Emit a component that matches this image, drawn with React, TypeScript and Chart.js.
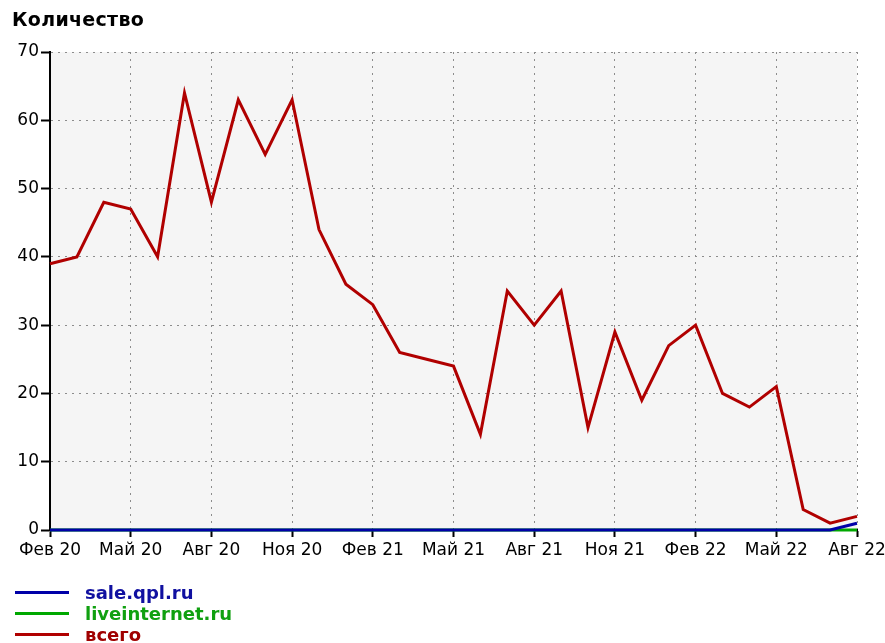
import React, { useEffect, useRef } from "react";
import { Chart, registerables } from "chart.js";

Chart.register(...registerables);

const months = [
  "Фев 20", "Мар 20", "Апр 20", "Май 20", "Июн 20", "Июл 20", "Авг 20", "Сен 20", "Окт 20", "Ноя 20", "Дек 20",
  "Янв 21", "Фев 21", "Мар 21", "Апр 21", "Май 21", "Июн 21", "Июл 21", "Авг 21", "Сен 21", "Окт 21", "Ноя 21", "Дек 21",
  "Янв 22", "Фев 22", "Мар 22", "Апр 22", "Май 22", "Июн 22", "Июл 22", "Авг 22",
];

const saleQpl = [0, 0, 0, 0, 0, 0, 0, 0, 0, 0, 0, 0, 0, 0, 0, 0, 0, 0, 0, 0, 0, 0, 0, 0, 0, 0, 0, 0, 0, 0, 1];
const liveInternet = [0, 0, 0, 0, 0, 0, 0, 0, 0, 0, 0, 0, 0, 0, 0, 0, 0, 0, 0, 0, 0, 0, 0, 0, 0, 0, 0, 0, 0, 0, 0];
const total = [39, 40, 48, 47, 40, 64, 48, 63, 55, 63, 44, 36, 33, 26, 25, 24, 14, 35, 30, 35, 15, 29, 19, 27, 30, 20, 18, 21, 3, 1, 2];

const seriesNames = ["sale.qpl.ru", "liveinternet.ru", "всего"];
const lineColors = ["#0000a8", "#00a800", "#b00000"];
const textColors = ["#1010a0", "#10a010", "#a00000"];

const FONT = "'DejaVu Sans', Verdana, sans-serif";

const bgPlugin = {
  id: "plotBg",
  beforeDraw(chart: any) {
    const { ctx, chartArea } = chart;
    ctx.save();
    ctx.fillStyle = "#f5f5f5";
    ctx.fillRect(chartArea.left, chartArea.top, chartArea.right - chartArea.left, chartArea.bottom - chartArea.top);
    ctx.restore();
  },
};

export default function App() {
  const ref = useRef<HTMLCanvasElement>(null);
  useEffect(() => {
    if (!ref.current) return;
    const chart = new Chart(ref.current, {
      type: "line",
      data: {
        labels: months,
        datasets: [
          { label: seriesNames[0], data: saleQpl, borderColor: lineColors[0], borderWidth: 3, pointRadius: 0, order: 1, clip: 6 } as any,
          { label: seriesNames[1], data: liveInternet, borderColor: lineColors[1], borderWidth: 3, pointRadius: 0, order: 2, clip: 6 } as any,
          { label: seriesNames[2], data: total, borderColor: lineColors[2], borderWidth: 3, pointRadius: 0, order: 0, clip: 6 } as any,
        ],
      },
      options: {
        animation: false,
        responsive: false,
        layout: { padding: { left: 0, top: 52, right: 28, bottom: 0 } },
        plugins: { legend: { display: false }, tooltip: { enabled: false }, title: { display: false } },
        scales: {
          x: {
            offset: false,
            afterFit: (s: any) => { s.height = 113; s.paddingLeft = 0; s.paddingRight = 0; },
            grid: { color: "#8c8c8c", lineWidth: 1, tickColor: "#000", tickLength: 7, tickWidth: 2, tickBorderDash: [] } as any,
            border: { color: "#000", width: 2, dash: [2, 5] },
            ticks: {
              autoSkip: false,
              maxRotation: 0,
              color: "#000",
              padding: 3,
              font: { family: FONT, size: 17 },
              callback: (_v: any, i: number) => (i % 3 === 0 ? months[i] : null),
            },
          },
          y: {
            min: 0,
            max: 70,
            afterFit: (s: any) => { s.width = 50; s.paddingTop = 0; s.paddingBottom = 0; },
            grid: { color: "#8c8c8c", lineWidth: 1, tickColor: "#000", tickLength: 9, tickWidth: 2, tickBorderDash: [] } as any,
            border: { color: "#000", width: 2, dash: [2, 5] },
            ticks: { stepSize: 10, color: "#000", padding: 2, font: { family: FONT, size: 17 } },
          },
        },
      },
      plugins: [bgPlugin],
    });
    return () => chart.destroy();
  }, []);

  return (
    <div style={{ position: "absolute", left: 0, top: 0, width: 885, height: 643, background: "#fff", overflow: "hidden" }}>
      <canvas ref={ref} width={885} height={643} style={{ position: "absolute", left: 0, top: 0 }} />
      <div style={{ position: "absolute", left: 12, top: 8, fontFamily: FONT, fontWeight: "bold", fontSize: 19, color: "#000", letterSpacing: 0.3 }}>
        Количество
      </div>
      {seriesNames.map((n, i) => (
        <div key={n} style={{ position: "absolute", left: 15, top: 582 + i * 21, height: 21, display: "flex", alignItems: "center" }}>
          <div style={{ width: 54, height: 3, background: lineColors[i] }} />
          <div style={{ marginLeft: 16, fontFamily: FONT, fontWeight: "bold", fontSize: 18, color: textColors[i], lineHeight: "21px" }}>{n}</div>
        </div>
      ))}
    </div>
  );
}
